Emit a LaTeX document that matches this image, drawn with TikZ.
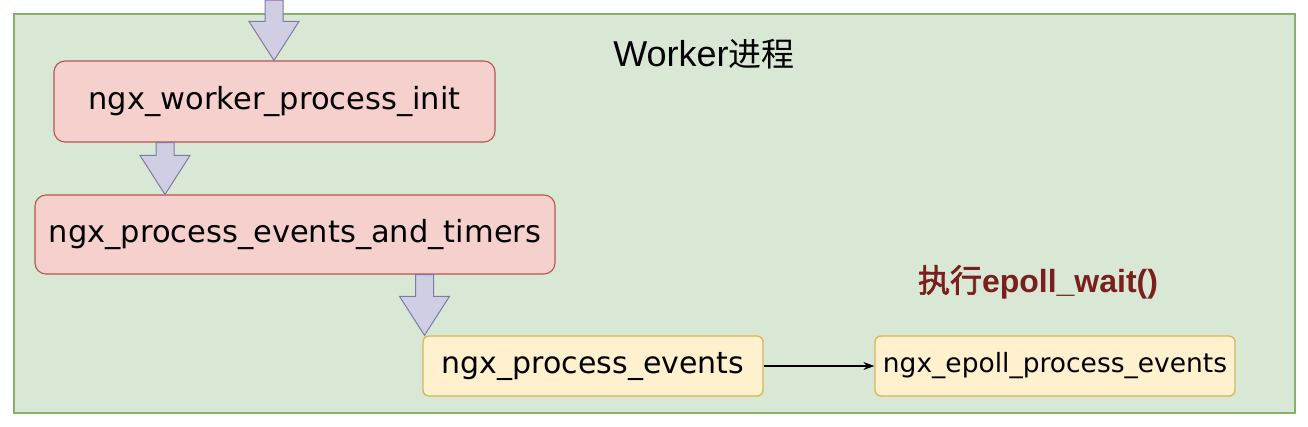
\documentclass[tikz,border=0pt]{standalone}
\usepackage{fontspec}
\setmainfont{Liberation Sans}
\newfontfamily\dvs{DejaVu Sans}
\newfontfamily\cjk[AutoFakeBold=2]{Noto Sans CJK SC}
\usetikzlibrary{arrows.meta,calc}
\definecolor{gfill}{HTML}{D9E8D5}
\definecolor{gdraw}{HTML}{82B366}
\definecolor{pfill}{HTML}{F6D0CD}
\definecolor{pdraw}{HTML}{B85450}
\definecolor{yfill}{HTML}{FFF0CE}
\definecolor{ydraw}{HTML}{D6B656}
\definecolor{afill}{HTML}{D0CEE2}
\definecolor{adraw}{HTML}{7E7AA6}
\definecolor{lblred}{HTML}{7A1E1E}
\tikzset{
  container/.style={draw=gdraw, fill=gfill, line width=1.2pt, minimum width=1281pt, minimum height=399pt, inner sep=0pt},
  pinkbox/.style={draw=pdraw, fill=pfill, line width=1.1pt, rounded corners=11pt, inner sep=0pt, font=\dvs\fontsize{30.5}{36}\selectfont},
  yelbox/.style={draw=ydraw, fill=yfill, line width=1.3pt, rounded corners=6pt, inner sep=0pt},
  blockarr/.style={draw=adraw, fill=afill, line width=1pt, line join=miter},
  flow/.style={-{Stealth[length=11pt,width=8pt]}, line width=1.2pt, black},
}
\newcommand\blockarrow[2]{%
  \path[blockarr] let \p1=(#1), \p2=(#2) in
  (\x1-9pt,\y1) -- (\x1+9pt,\y1) -- (\x1+9pt,\y2+39pt) -- (\x1+25pt,\y2+39pt)
  -- (\x1,\y2) -- (\x1-25pt,\y2+39pt) -- (\x1-9pt,\y2+39pt) -- cycle;}
\begin{document}
\begin{tikzpicture}[x=1pt,y=-1pt]
\useasboundingbox (0,0) rectangle (1308,426);
\fill[white] (0,0) rectangle (1308,426);
\node[container] (worker) at (654.5,213.5) {};
\node (title) at (704,54) {\fontsize{36}{40}\selectfont Worker{\cjk\fontsize{33}{40}\selectfont 进程}};
\node[pinkbox, minimum width=441pt, minimum height=81pt] (b1) at (274.5,101.5) {ngx\_worker\_process\_init};
\node[pinkbox, minimum width=520pt, minimum height=79pt] (b2) at (295,234.5) {ngx\_process\_events\_and\_timers};
\node[yelbox, minimum width=340pt, minimum height=60pt, font=\dvs\fontsize{30}{36}\selectfont] (b3) at (593,366) {ngx\_process\_events};
\node[yelbox, minimum width=360pt, minimum height=60pt, font=\dvs\fontsize{26.5}{32}\selectfont] (b4) at (1055,366) {ngx\_epoll\_process\_events};
\node (lbl) at (1038,282) {\color{lblred}\bfseries\fontsize{32}{36}\selectfont{\cjk 执行}epoll\_wait()};
\coordinate (in) at (274,0);
\blockarrow{in}{b1.north}
\blockarrow{$(165,0 |- b1.south)$}{$(165,0 |- b2.north)$}
\blockarrow{$(424.5,0 |- b2.south)$}{$(424.5,0 |- b3.north)$}
\draw[flow] (b3.east) -- (b4.west);
\end{tikzpicture}
\end{document}
